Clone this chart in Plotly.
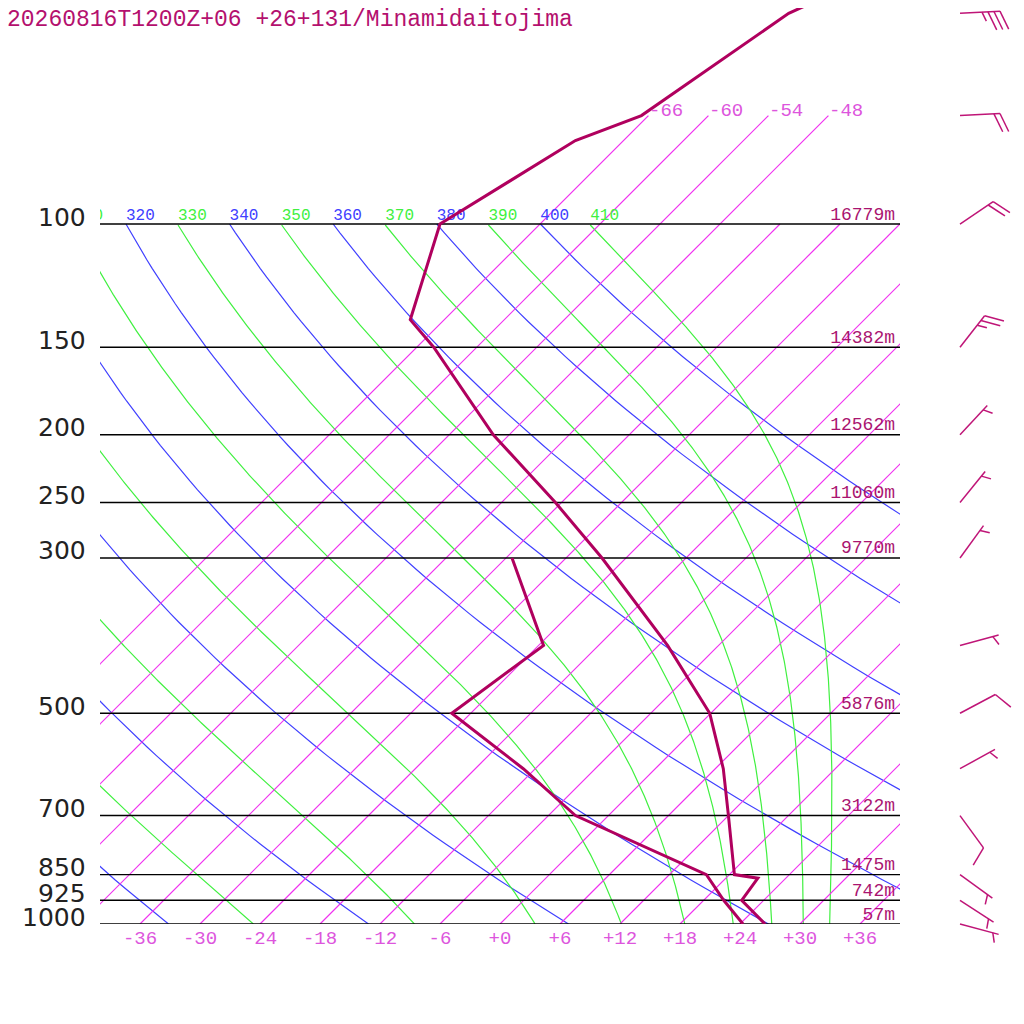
import numpy as np
import plotly.graph_objects as go

titre = "20260816T1200Z+06 +26+131/Minamidaitojima"

# profil de température (hPa, °C)
p_temp = [1000, 925, 860, 850, 700, 600, 500, 400, 300, 250, 200, 150, 137, 100, 76, 70, 50, 40]
t_temp = [26.5, 21.8, 21.2, 18.5, 12.0, 6.8, -0.1, -11.1, -26.4, -36.6, -49.6, -64.3, -69.4, -76.0, -70.8, -66.7, -62.2, -54.0]

# point de rosée
p_rosee = [1000, 925, 850, 700, 600, 500, 400, 300]
t_rosee = [24.3, 20.0, 15.7, -3.3, -13.2, -25.9, -23.5, -35.4]

# niveaux standards et géopotentiel
niveaux = [1000, 925, 850, 700, 500, 300, 250, 200, 150, 100]
altitudes = ["57m", "742m", "1475m", "3122m", "5876m", "9770m", "11060m", "12562m", "14382m", "16779m"]

# vent (direction en degrés, vitesse en noeuds)
vent_p = [1000, 925, 850, 700, 600, 500, 400, 300, 250, 200, 150, 100, 70, 50]
vent_dir = [105, 123, 126, 144, 61, 62, 75, 36, 39, 43, 38, 56, 87, 87]
vent_kt = [5, 5, 5, 10, 5, 10, 5, 5, 5, 5, 25, 20, 20, 35]

# fond du diagramme
isothermes = [-66, -60, -54, -48, -42, -36, -30, -24, -18, -12, -6, 0, 6, 12, 18, 24, 30, 36]
iso_haut = [-66, -60, -54, -48]
theta_sec = [240, 260, 280, 300, 320, 340, 360, 380, 400]
theta_hum = [250, 270, 290, 310, 330, 350, 370, 390, 410]
graduations_t = [-36, -30, -24, -18, -12, -6, 0, 6, 12, 18, 24, 30, 36]

# la page html ajoute une marge de 8 px : la figure fait donc 1016 px
MARGE = 8
W = 1024 - MARGE
SKEW = 30.4          # décalage en °C par unité de ln(p)
PX_LN = 304.0        # pixels par unité de ln(p)
H_TRACE = 924 - MARGE
Y_HAUT = 3 - H_TRACE / PX_LN / np.log(10)
Y_BAS2 = 3 + (W - H_TRACE) / PX_LN / np.log(10)

ROUGE = "#b0005e"
MAGENTA = "#dd55dd"
ISO = "#f030f0"
BLEU = "#4040ff"
VERT = "#40f040"
MONO = "Liberation Mono, Courier New, monospace"


def skew(t, p):
    return np.asarray(t, dtype=float) + SKEW * np.log(1000.0 / np.asarray(p, dtype=float))


def pseudo_adiabatique(theta, p_bas=100):
    Rd, cp, Lv, eps = 287.04, 1005.7, 2.501e6, 0.622

    def pente(p, T):
        tc = T - 273.15
        es = 6.112 * np.exp(17.67 * tc / (tc + 243.5))
        rs = eps * es / (p - es)
        return (Rd * T + Lv * rs) / (p * (cp + Lv * Lv * rs * eps / (Rd * T * T)))

    ps = np.geomspace(50, 1000, 500)
    T = [theta * (ps[0] / 1000) ** 0.2857]
    for i in range(len(ps) - 1):
        h = ps[i + 1] - ps[i]
        p, t = ps[i], T[-1]
        k1 = pente(p, t)
        k2 = pente(p + h / 2, t + h * k1 / 2)
        k3 = pente(p + h / 2, t + h * k2 / 2)
        k4 = pente(p + h, t + h * k3)
        T.append(t + h * (k1 + 2 * k2 + 2 * k3 + k4) / 6)
    T = np.array(T) - 273.15
    garde = ps >= p_bas - 1e-6
    return ps[garde], T[garde]


fig = go.Figure()

# adiabatiques sèches
pp = np.geomspace(1000, 100, 80)
for th in theta_sec:
    tt = th * (pp / 1000) ** 0.2857 - 273.15
    fig.add_trace(go.Scatter(x=skew(tt, pp), y=pp, mode="lines",
                             line=dict(color=BLEU, width=1.2), hoverinfo="skip"))

# pseudo-adiabatiques
sommets_h = []
for th in theta_hum:
    ph, th_c = pseudo_adiabatique(th)
    fig.add_trace(go.Scatter(x=skew(th_c, ph), y=ph, mode="lines",
                             line=dict(color=VERT, width=1.2), hoverinfo="skip"))
    sommets_h.append(float(skew(th_c[0], ph[0])))

# isothermes
for t in isothermes:
    haut = 70 if t in iso_haut else 100
    pi = np.geomspace(1000, haut, 30)
    fig.add_trace(go.Scatter(x=skew(np.full(pi.shape, float(t)), pi), y=pi, mode="lines",
                             line=dict(color=ISO, width=1.2), hoverinfo="skip"))

# niveaux de pression
for p in niveaux:
    fig.add_trace(go.Scatter(x=[-40, 40], y=[p, p], mode="lines",
                             line=dict(color="black", width=1.4), hoverinfo="skip"))

# étiquettes du fond (coupées au bord du cadre)
sommets_s = [float(skew(th * 0.1 ** 0.2857 - 273.15, 100)) for th in theta_sec]
for xs_, vals, coul in [(sommets_s, theta_sec, BLEU), (sommets_h, theta_hum, VERT)]:
    garde = [i for i, x in enumerate(xs_) if x > -44.5]
    fig.add_trace(go.Scatter(x=[xs_[i] for i in garde], y=[100] * len(garde), mode="text",
                             text=[str(vals[i]) for i in garde], textposition="top right",
                             textfont=dict(family=MONO, size=16, color=coul), hoverinfo="skip"))

fig.add_trace(go.Scatter(x=[39.5] * len(niveaux), y=niveaux, mode="text",
                         text=altitudes, textposition="top left",
                         textfont=dict(family=MONO, size=18, color="#aa1470"), hoverinfo="skip"))

# profils
fig.add_trace(go.Scatter(x=skew(t_rosee, p_rosee), y=p_rosee, mode="lines",
                         line=dict(color=ROUGE, width=3), hoverinfo="skip"))
fig.add_trace(go.Scatter(x=skew(t_temp, p_temp), y=p_temp, mode="lines",
                         line=dict(color=ROUGE, width=3), hoverinfo="skip"))

# barbules de vent (sous-graphe de droite, en pixels horizontalement)
X0, LONG, PAS, ANGLE = 960.0, 40.0, 6.0, np.radians(67)
bx, by = [], []
for p0, d, v in zip(vent_p, vent_dir, vent_kt):
    ux, uy = np.sin(np.radians(d)), -np.cos(np.radians(d))
    bx_, by_ = ux * np.cos(ANGLE) - uy * np.sin(ANGLE), ux * np.sin(ANGLE) + uy * np.cos(ANGLE)
    tip_x, tip_y = X0 + LONG * ux, LONG * uy
    bx += [X0, tip_x, None]
    by += [p0, p0 * np.exp(tip_y / PX_LN), None]
    n_plein, demi = v // 10, (v % 10) >= 5
    traits = [20.0] * n_plein + ([10.0] if demi else [])
    depart = 1 if (n_plein == 0 and demi) else 0
    for k, lg in enumerate(traits):
        sx = tip_x - (k + depart) * PAS * ux
        sy = tip_y - (k + depart) * PAS * uy
        ex, ey = sx + lg * bx_, sy + lg * by_
        bx += [sx, ex, None]
        by += [p0 * np.exp(sy / PX_LN), p0 * np.exp(ey / PX_LN), None]
fig.add_trace(go.Scatter(x=bx, y=by, xaxis="x2", yaxis="y2", mode="lines",
                         line=dict(color="#bf1577", width=1.5), hoverinfo="skip"))

# étiquettes des isothermes du haut
for t in iso_haut:
    fig.add_annotation(x=float(skew(t, 70)), y=np.log10(70), xref="x", yref="y",
                       xanchor="left", yanchor="middle", xshift=-1, yshift=5,
                       text=f"{t:+d}", showarrow=False,
                       font=dict(family=MONO, size=19, color=MAGENTA))

# étiquettes de pression
for p in niveaux:
    fig.add_annotation(x=(88 - MARGE) / W, xref="paper", xanchor="right", y=np.log10(p), yref="y",
                       yanchor="middle", yshift=7, text=str(p), showarrow=False,
                       font=dict(family="DejaVu Sans", size=25, color="#222222"))

fig.add_annotation(x=-0.003, xref="paper", xanchor="left", y=1, yref="paper", yanchor="top",
                   yshift=3, text=titre, showarrow=False,
                   font=dict(family=MONO, size=23, color="#b4106e"))

fig.update_layout(
    width=W, height=W,
    margin=dict(l=0, r=0, t=0, b=0),
    paper_bgcolor="white", plot_bgcolor="white",
    showlegend=False,
    xaxis=dict(domain=[(100 - MARGE) / W, (900 - MARGE) / W], range=[-40, 40], showgrid=False,
               zeroline=False, showline=False, ticks="", tickvals=graduations_t,
               ticktext=[f"{v:+d}" for v in graduations_t],
               tickfont=dict(family=MONO, size=19, color=MAGENTA)),
    yaxis=dict(domain=[(W - H_TRACE) / W, 1.0], type="log", range=[3, Y_HAUT], showgrid=False,
               zeroline=False, showline=False, showticklabels=False, ticks=""),
    xaxis2=dict(domain=[(940 - MARGE) / W, 1.0], range=[940, 1024], anchor="y2", showgrid=False,
                zeroline=False, showline=False, showticklabels=False, ticks=""),
    yaxis2=dict(domain=[0, 1.0], type="log", range=[Y_BAS2, Y_HAUT], anchor="x2", showgrid=False,
                zeroline=False, showline=False, showticklabels=False, ticks=""),
)

fig.write_html("out.html")
